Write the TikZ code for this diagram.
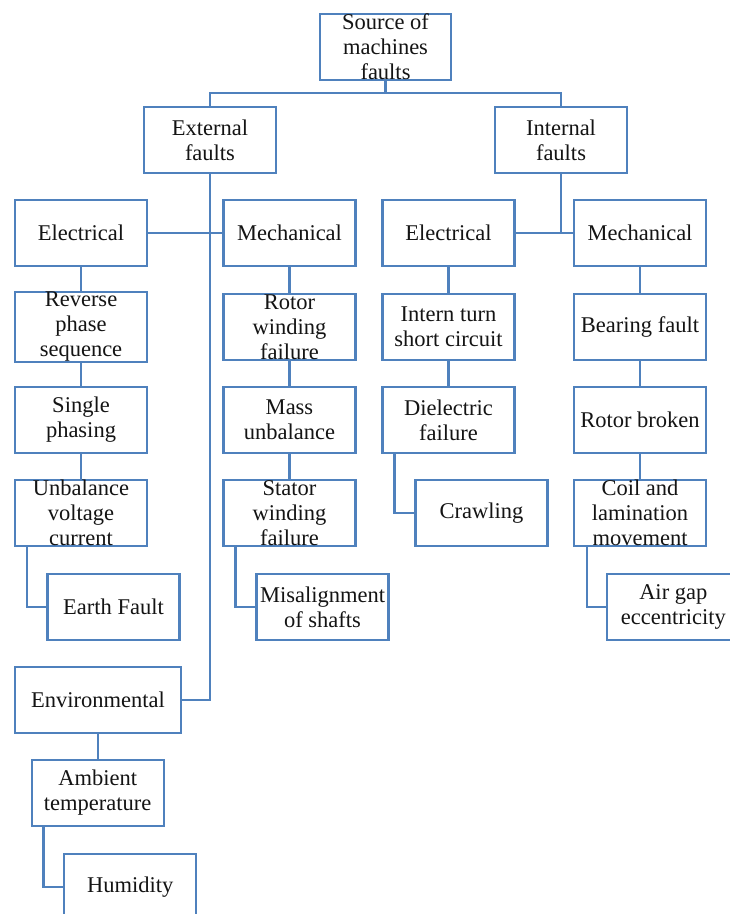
\documentclass[tikz,border=0pt]{standalone}
\usepackage{fontspec}
\setmainfont{Liberation Serif}
\definecolor{fblue}{RGB}{79,129,189}
\definecolor{ftext}{RGB}{20,20,20}
\begin{document}
\begin{tikzpicture}[x=1pt,y=-1pt,
  fbox/.style={draw=fblue, line width=2.3pt, rectangle, fill=white,
    minimum width=132pt, minimum height=66pt, inner sep=0pt,
    align=center, text=ftext, font=\fontsize{22.5}{25}\selectfont},
  link/.style={draw=fblue, line width=2.3pt}]
\clip (0,0) rectangle (730,914);
\fill[white] (0,0) rectangle (730,914);

% root and the two main branches
\node[fbox, minimum width=131pt] (src) at (385.5,47) {Source of\\machines\\faults};
\node[fbox] (ext) at (210,140) {External\\faults};
\node[fbox] (int) at (561,140) {Internal\\faults};

% second level
\node[fbox] (el1) at (81,233)    {Electrical};
\node[fbox] (me1) at (289.5,233) {Mechanical};
\node[fbox] (el2) at (448.5,233) {Electrical};
\node[fbox] (me2) at (640,233)   {Mechanical};

% external / electrical
\node[fbox] (rps) at (81,327) {Reverse\\phase\\sequence};
\node[fbox] (sp)  at (81,420) {Single\\phasing};
\node[fbox] (uvc) at (81,513) {Unbalance\\voltage\\current};
\node[fbox] (ef)  at (113.5,607) {Earth Fault};

% external / mechanical
\node[fbox] (rwf) at (289.5,327) {Rotor\\winding\\failure};
\node[fbox] (mu)  at (289.5,420) {Mass\\unbalance};
\node[fbox] (swf) at (289.5,513) {Stator\\winding\\failure};
\node[fbox] (mis) at (322.5,607) {Misalignment\\of shafts};

% internal / electrical
\node[fbox] (itsc)  at (448.5,327) {Intern turn\\short circuit};
\node[fbox] (df)    at (448.5,420) {Dielectric\\failure};
\node[fbox] (crawl) at (481.5,513) {Crawling};

% internal / mechanical
\node[fbox] (bf)   at (640,327) {Bearing fault};
\node[fbox] (rb)   at (640,420) {Rotor broken};
\node[fbox] (clm)  at (640,513) {Coil and\\lamination\\movement};
\node[fbox] (agap) at (673.3,607) {Air gap\\eccentricity};

% external / environmental
\node[fbox, minimum width=166pt] (env) at (98,700) {Environmental};
\node[fbox] (amb) at (97.7,793) {Ambient\\temperature};
\node[fbox] (hum) at (130.3,886.7) {Humidity};

% connectors
\coordinate (jt) at (385.5,93.3);
\draw[link] (src.south) -- (jt);
\draw[link] (ext.north) |- (jt) -| (int.north);

\draw[link] (ext.south) |- (env.east);
\draw[link] (el1.east) -- (me1.west);
\draw[link] (int.south) -- (int.south |- el2.east);
\draw[link] (el2.east) -- (me2.west);

\draw[link] (el1) -- (rps);
\draw[link] (rps) -- (sp);
\draw[link] (sp) -- (uvc);
\draw[link] ([xshift=13pt]uvc.south west) |- (ef.west);

\draw[link] (me1) -- (rwf);
\draw[link] (rwf) -- (mu);
\draw[link] (mu) -- (swf);
\draw[link] ([xshift=13pt]swf.south west) |- (mis.west);

\draw[link] (el2) -- (itsc);
\draw[link] (itsc) -- (df);
\draw[link] ([xshift=13pt]df.south west) |- (crawl.west);

\draw[link] (me2) -- (bf);
\draw[link] (bf) -- (rb);
\draw[link] (rb) -- (clm);
\draw[link] ([xshift=14pt]clm.south west) |- (agap.west);

\draw[link] (env.south -| amb.north) -- (amb.north);
\draw[link] ([xshift=13pt]amb.south west) |- (hum.west);
\end{tikzpicture}
\end{document}
